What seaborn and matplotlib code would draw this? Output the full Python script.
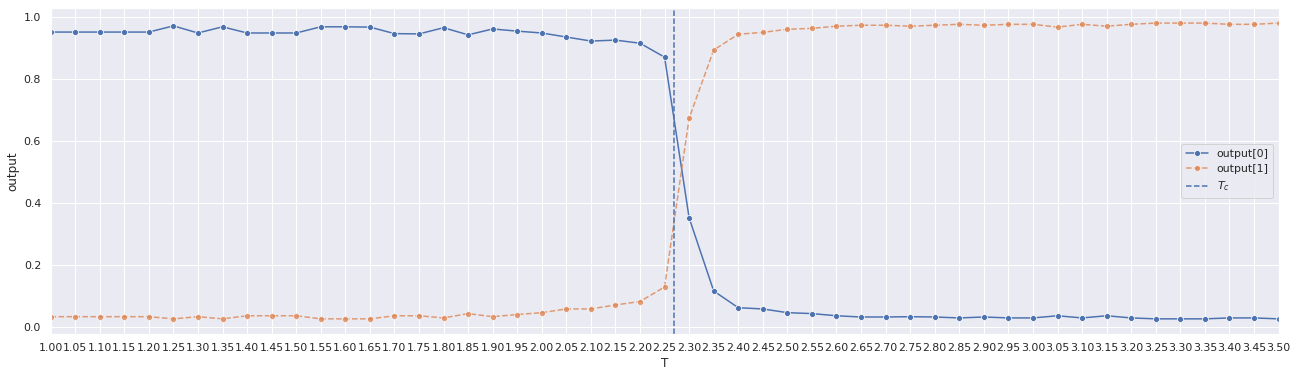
import numpy as np
import pandas as pd
import seaborn as sns
import matplotlib
matplotlib.use("Agg")
import matplotlib.pyplot as plt

temps = [1.00, 1.05, 1.10, 1.15, 1.20, 1.25, 1.30, 1.35, 1.40, 1.45,
         1.50, 1.55, 1.60, 1.65, 1.70, 1.75, 1.80, 1.85, 1.90, 1.95,
         2.00, 2.05, 2.10, 2.15, 2.20, 2.25, 2.30, 2.35, 2.40, 2.45,
         2.50, 2.55, 2.60, 2.65, 2.70, 2.75, 2.80, 2.85, 2.90, 2.95,
         3.00, 3.05, 3.10, 3.15, 3.20, 3.25, 3.30, 3.35, 3.40, 3.45, 3.50]

output0 = [0.951, 0.951, 0.951, 0.951, 0.951, 0.971, 0.948, 0.968, 0.948, 0.948,
           0.948, 0.968, 0.968, 0.967, 0.946, 0.945, 0.965, 0.942, 0.961, 0.954,
           0.948, 0.935, 0.922, 0.925, 0.915, 0.870, 0.351, 0.115, 0.061, 0.057,
           0.045, 0.042, 0.035, 0.031, 0.031, 0.032, 0.031, 0.028, 0.031, 0.028,
           0.028, 0.035, 0.028, 0.035, 0.028, 0.025, 0.025, 0.025, 0.028, 0.028, 0.025]

output1 = [0.032, 0.032, 0.032, 0.032, 0.032, 0.025, 0.032, 0.025, 0.035, 0.035,
           0.035, 0.025, 0.025, 0.025, 0.035, 0.035, 0.028, 0.042, 0.032, 0.039,
           0.045, 0.057, 0.057, 0.070, 0.081, 0.128, 0.673, 0.893, 0.944, 0.950,
           0.960, 0.963, 0.970, 0.973, 0.973, 0.970, 0.973, 0.976, 0.973, 0.976,
           0.976, 0.967, 0.976, 0.970, 0.976, 0.980, 0.980, 0.980, 0.976, 0.976, 0.980]

Tc = 2 / np.log(1 + np.sqrt(2))

df = pd.DataFrame({"T": temps, "output[0]": output0, "output[1]": output1})
long_df = df.melt(id_vars="T", var_name="series", value_name="output")

sns.set_theme(style="darkgrid")
pal = sns.color_palette("deep")

fig, ax = plt.subplots(figsize=(1298 / 72, 377 / 72), dpi=72)
sns.lineplot(data=long_df[long_df["series"] == "output[0]"], x="T", y="output",
             marker="o", color=pal[0], label="output[0]", ax=ax)
sns.lineplot(data=long_df[long_df["series"] == "output[1]"], x="T", y="output",
             marker="o", color=pal[1], linestyle="--", alpha=0.8,
             label="output[1]", ax=ax)
ax.axvline(Tc, color=pal[0], linestyle="--", label="$T_c$")

ax.set_xlim(1.0, 3.5)
ax.set_xticks(temps)
ax.set_xticklabels([f"{t:.2f}" for t in temps])
ax.legend(loc="center right")

plt.subplots_adjust(left=0.039, right=0.985, top=0.978, bottom=0.115)
plt.savefig("out.png", dpi=72)
